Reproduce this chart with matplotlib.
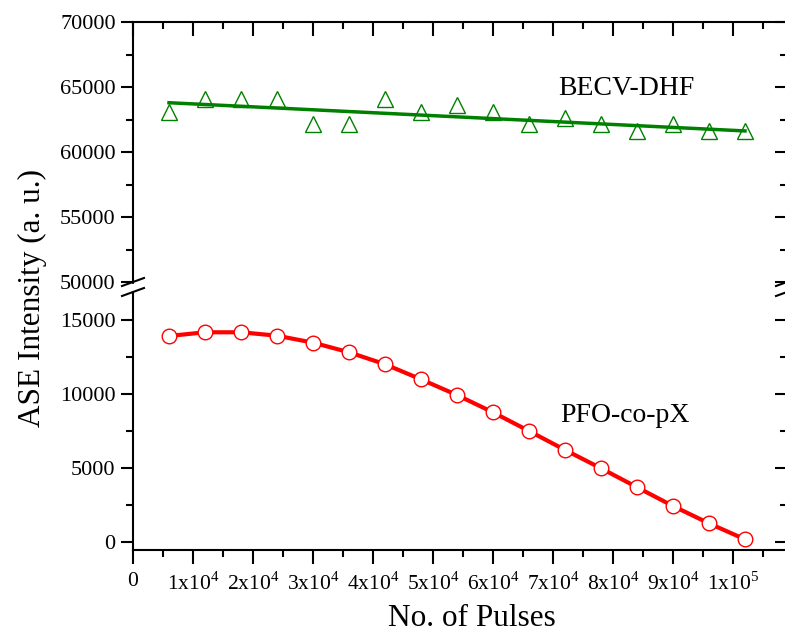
import numpy as np
import matplotlib
matplotlib.use("Agg")
import matplotlib.pyplot as plt
from matplotlib.ticker import MultipleLocator, FixedLocator, FixedFormatter

plt.rcParams['font.family'] = ['Liberation Serif', 'DejaVu Serif']
plt.rcParams['mathtext.fontset'] = 'custom'
plt.rcParams['mathtext.rm'] = 'Liberation Serif'

# data
pulses = [6000, 12000, 18000, 24000, 30000, 36000, 42000, 48000, 54000,
          60000, 66000, 72000, 78000, 84000, 90000, 96000, 102000]
becv = [63100, 64080, 64080, 64080, 62130, 62130, 64080, 63100, 63600,
        63100, 62130, 62640, 62130, 61620, 62130, 61620, 61620]
pfo = [13920, 14170, 14170, 13940, 13470, 12820, 12010, 10990, 9930,
       8760, 7500, 6220, 4980, 3700, 2430, 1260, 180]
fit_x = [6000, 102000]
fit_y = [63790, 61620]

xticks = [0, 10000, 20000, 30000, 40000, 50000, 60000, 70000, 80000, 90000, 100000]
xlabels = ['0'] + [r'%dx10$^{\mathrm{4}}$' % i for i in range(1, 10)] + [r'1x10$^{\mathrm{5}}$']

W, H = 785, 632
fig = plt.figure(figsize=(W / 100, H / 100), dpi=100)

left, right = 133, 787
top, brk, bot = 22, 287, 550
ax_top = fig.add_axes([left / W, 1 - brk / H, (right - left) / W, (brk - top) / H])
ax_bot = fig.add_axes([left / W, 1 - bot / H, (right - left) / W, (bot - brk) / H])

xmax = (right - left) / 60 * 10000
for ax in (ax_top, ax_bot):
    ax.set_xlim(0, xmax)
    ax.xaxis.set_major_locator(FixedLocator(xticks))
    ax.xaxis.set_minor_locator(MultipleLocator(5000))
    ax.yaxis.set_minor_locator(MultipleLocator(2500))
    for s in ax.spines.values():
        s.set_linewidth(1.5)
    ax.tick_params(axis='y', which='both', left=True, right=True, width=1.5,
                   labelsize=16, direction='out')
    ax.tick_params(axis='y', which='major', length=9)
    ax.tick_params(axis='y', which='minor', length=5)

# top panel
ax_top.set_ylim(70000 - (brk - top) / 65 * 5000, 70000)
ax_top.yaxis.set_major_locator(MultipleLocator(5000))
ax_top.spines['bottom'].set_visible(False)
ax_top.tick_params(axis='x', which='both', bottom=False, labelbottom=False,
                   top=True, direction='in', width=1.5)
ax_top.tick_params(axis='x', which='major', length=10)
ax_top.tick_params(axis='x', which='minor', length=5)

# bottom panel
ax_bot.set_ylim(-8 / 74 * 5000, (542 - brk) / 74 * 5000)
ax_bot.yaxis.set_major_locator(MultipleLocator(5000))
ax_bot.spines['top'].set_visible(False)
ax_bot.xaxis.set_major_formatter(FixedFormatter(xlabels))
ax_bot.tick_params(axis='x', which='both', top=False, direction='out',
                   width=1.5, labelsize=15.5, pad=6)
ax_bot.tick_params(axis='x', which='major', length=10)
ax_bot.tick_params(axis='x', which='minor', length=5)

# right ticks point inward
for ax in (ax_top, ax_bot):
    for t in ax.yaxis.get_major_ticks() + ax.yaxis.get_minor_ticks():
        t.tick2line.set_marker(matplotlib.lines.TICKLEFT)

# series
ax_top.plot(fit_x, fit_y, color='#008000', lw=2.5, zorder=2)
ax_top.plot(pulses, becv, ls='none', marker='^', ms=11, mfc='none',
            mec='#008000', mew=1.0, zorder=3)
ax_bot.plot(pulses, pfo, color='#ff0000', lw=3, marker='o', ms=10.5,
            mfc='white', mec='#ff0000', mew=1.0, zorder=3)

ax_top.text(70800, 64920, 'BECV-DHF', fontsize=20, va='center', ha='left')
ax_bot.text(71200, 8580, 'PFO-co-pX', fontsize=20, va='center', ha='left')

fig.text(32 / W, 1 - 298 / H, 'ASE Intensity (a. u.)', rotation=90,
         fontsize=22.5, ha='center', va='center')
fig.text(472 / W, 1 - 619 / H, 'No. of Pulses', fontsize=22.5,
         ha='center', va='center')

# axis break marks
def brk_mark(x0, yc):
    fig.add_artist(plt.Polygon([[(x0 - 3) / W, 1 - (yc - 3) / H],
                                [(x0 + 3) / W, 1 - (yc - 3) / H],
                                [(x0 + 3) / W, 1 - (yc + 3) / H],
                                [(x0 - 3) / W, 1 - (yc + 3) / H]],
                               closed=True, color='white', zorder=5))
    for dy in (-5, 5):
        xs = [(x0 - 11) / W, (x0 + 11) / W]
        ys = [1 - (yc + dy + 4) / H, 1 - (yc + dy - 4) / H]
        fig.add_artist(plt.Line2D(xs, ys, color='black', lw=1.5, zorder=6))

brk_mark(left, brk)
brk_mark(right, brk)

fig.savefig('out.png', dpi=100)
